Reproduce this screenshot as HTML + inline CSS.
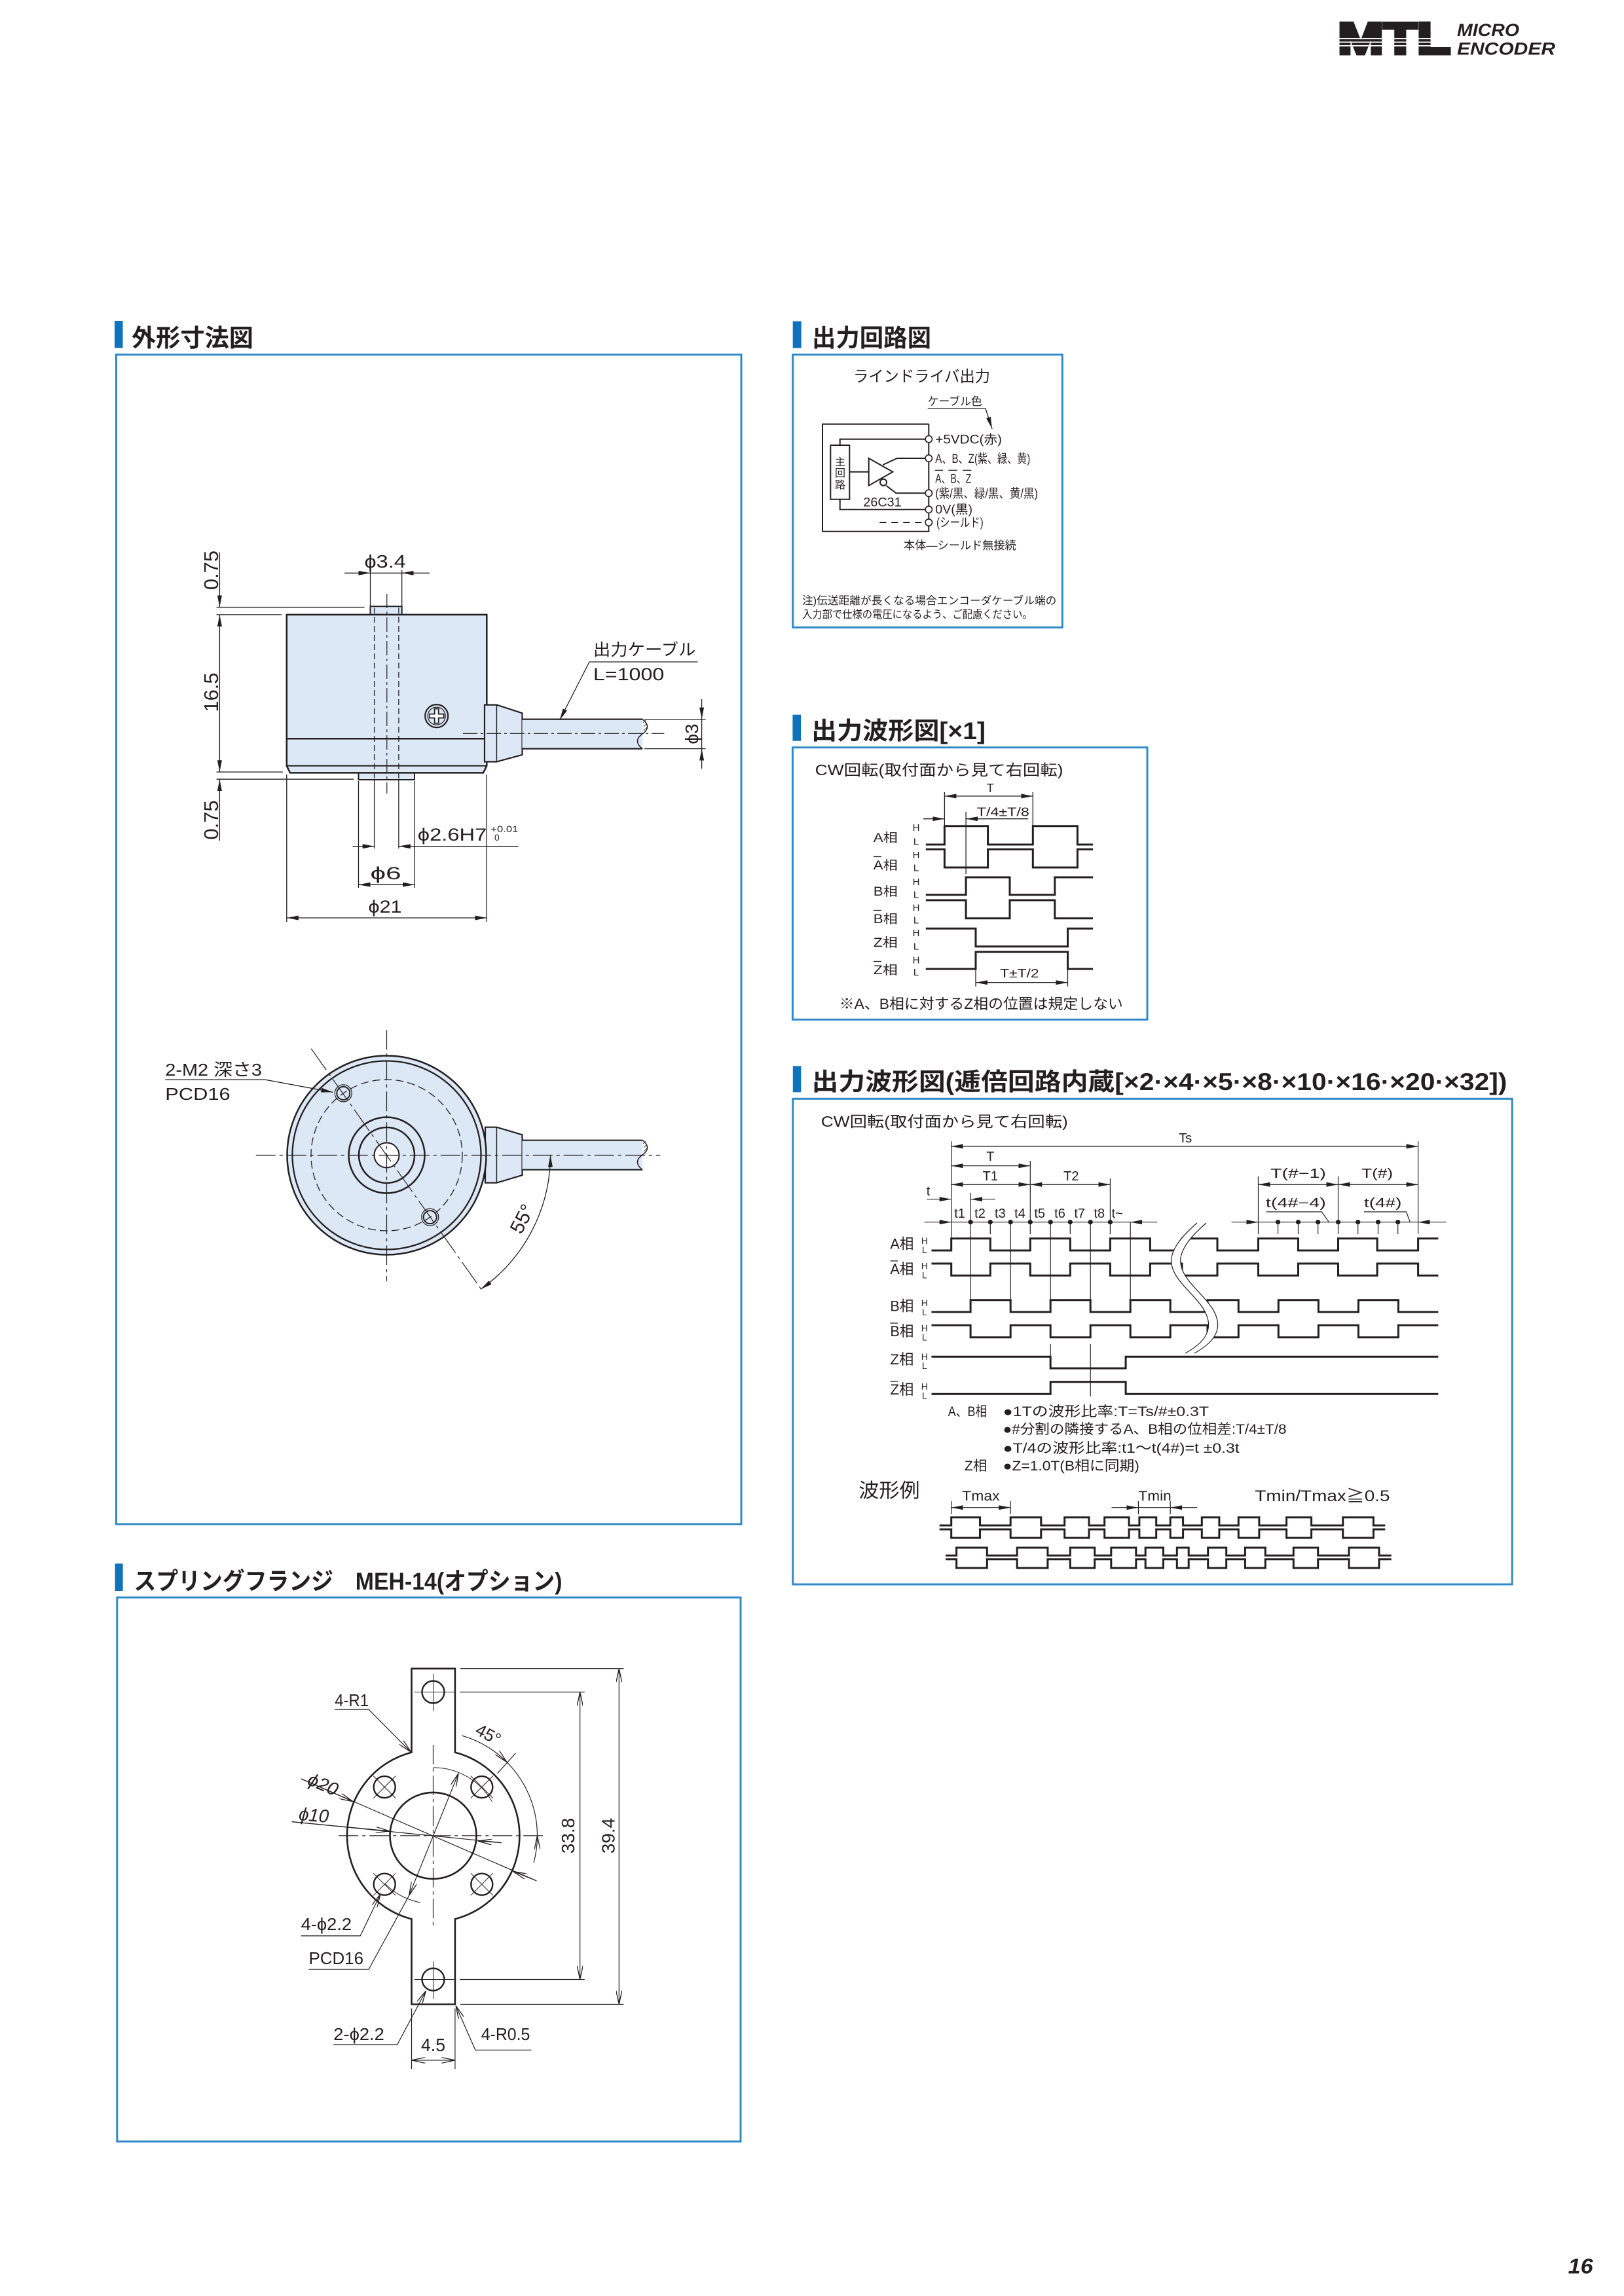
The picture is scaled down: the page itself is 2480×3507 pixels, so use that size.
<!DOCTYPE html>
<html><head><meta charset="utf-8"><style>
html,body{margin:0;padding:0;background:#fff}
svg{display:block}
text{font-family:"Liberation Sans","Noto Sans CJK JP",sans-serif;fill:#231f20}
.h{font-weight:700}
</style></head><body>
<svg xmlns="http://www.w3.org/2000/svg" width="2480" height="3507" viewBox="0 0 2480 3507">
<defs>
<marker id="ar" viewBox="0 0 18 7" refX="18" refY="3.5" markerWidth="18" markerHeight="7" markerUnits="userSpaceOnUse" orient="auto-start-reverse"><path d="M0,0L18,3.5L0,7z" fill="#231f20"/></marker>
<marker id="ao" viewBox="0 0 22 9" refX="21" refY="4.5" markerWidth="22" markerHeight="9" markerUnits="userSpaceOnUse" orient="auto-start-reverse"><path d="M0,0L21,4.5L0,9" fill="none" stroke="#231f20" stroke-width="1.3"/></marker>
</defs>

<!-- Logo -->
<text x="2043" y="82" font-size="68" font-weight="bold" textLength="172" lengthAdjust="spacingAndGlyphs" stroke="#231f20" stroke-width="5" stroke-linejoin="miter">MTL</text>
<rect x="2038" y="58" width="182" height="1.8" fill="#fff"/>
<rect x="2038" y="63.5" width="182" height="1.8" fill="#fff"/>
<rect x="2038" y="69" width="182" height="1.8" fill="#fff"/>
<text x="2225" y="55" font-size="27" font-weight="bold" font-style="italic" textLength="95" lengthAdjust="spacingAndGlyphs">MICRO</text>
<text x="2225" y="83.3" font-size="27" font-weight="bold" font-style="italic" textLength="150" lengthAdjust="spacingAndGlyphs">ENCODER</text>

<!-- Headings -->
<rect x="175" y="490" width="12.5" height="41.5" fill="#0f72ba"/>
<text class="h" x="201" y="529" font-size="37" textLength="186" lengthAdjust="spacingAndGlyphs">外形寸法図</text>
<rect x="1210.7" y="490.7" width="13" height="41" fill="#0f72ba"/>
<text class="h" x="1240" y="529" font-size="37" textLength="182" lengthAdjust="spacingAndGlyphs">出力回路図</text>
<rect x="1210.4" y="1091.7" width="12.8" height="40" fill="#0f72ba"/>
<text class="h" x="1239" y="1129" font-size="37" textLength="266" lengthAdjust="spacingAndGlyphs">出力波形図[×1]</text>
<rect x="1210.8" y="1628.3" width="12.5" height="40" fill="#0f72ba"/>
<text class="h" x="1239.5" y="1665" font-size="37" textLength="1062" lengthAdjust="spacingAndGlyphs">出力波形図(逓倍回路内蔵[×2·×4·×5·×8·×10·×16·×20·×32])</text>
<rect x="175.6" y="2388.3" width="12" height="41.7" fill="#0f72ba"/>
<text class="h" x="204.5" y="2428" font-size="37" textLength="654" lengthAdjust="spacingAndGlyphs">スプリングフランジ　MEH-14(オプション)</text>

<!-- Boxes -->
<g fill="none" stroke="#3189c9" stroke-width="3">
<rect x="177.5" y="541.7" width="954.5" height="1786.3"/>
<rect x="1210.7" y="541.7" width="411.6" height="416.6"/>
<rect x="1210.4" y="1141.7" width="541.6" height="415.6"/>
<rect x="1210.8" y="1678.3" width="1098.4" height="741.7"/>
<rect x="178.8" y="2440" width="952.2" height="831"/>
</g>

<!-- ===== SIDE VIEW ===== -->
<g stroke="#231f20" fill="none">
<rect x="565.5" y="926.2" width="48.2" height="12.7" fill="#dce8f5" stroke-width="2"/>
<rect x="547.5" y="1180.4" width="85.5" height="10.6" fill="#dce8f5" stroke-width="2"/>
<polygon points="437.8,938.9 743.3,938.9 743.3,1169.8 738,1180.4 443,1180.4 437.8,1169.8" fill="#dce8f5" stroke-width="2.5"/>
<line x1="437.8" y1="1169.8" x2="743.3" y2="1169.8" stroke-width="2"/>
<line x1="437.8" y1="1128.3" x2="743.3" y2="1128.3" stroke-width="2.5"/>
<g stroke-width="1.3" stroke-dasharray="9 5">
<line x1="571.6" y1="928" x2="571.6" y2="1191"/>
<line x1="608.9" y1="928" x2="608.9" y2="1191"/>
</g>
<line x1="590.8" y1="907" x2="590.8" y2="1212" stroke-width="1.2" stroke-dasharray="22 5 4 5"/>
<circle cx="666.7" cy="1093.6" r="17.5" stroke-width="2.2"/>
<circle cx="666.7" cy="1093.6" r="13.5" stroke-width="1.2"/>
<polygon points="663.7,1082.6 669.7,1082.6 669.7,1090.6 677.7,1090.6 677.7,1096.6 669.7,1096.6 669.7,1104.6 663.7,1104.6 663.7,1096.6 655.7,1096.6 655.7,1090.6 663.7,1090.6" fill="#fff" stroke-width="1.8"/>
<polygon points="740,1076.6 758.4,1076.6 797.5,1089.3 797.5,1152.9 758.4,1163.5 740,1163.5" fill="#dce8f5" stroke-width="2.2"/>
<line x1="758.4" y1="1076.6" x2="758.4" y2="1163.5" stroke-width="1.5"/>
<rect x="797.5" y="1098.6" width="183.7" height="45" fill="#dce8f5" stroke="none"/>
<line x1="797.5" y1="1098.6" x2="981.2" y2="1098.6" stroke-width="2.2"/>
<line x1="797.5" y1="1143.6" x2="981.2" y2="1143.6" stroke-width="2.2"/>
<path d="M981,1098.6 C991,1106 991,1114 981,1121 C971,1128 971,1136 981,1143.6" stroke-width="1.5"/>
<path d="M982,1104 L986,1100 M983,1110 L988,1105 M983,1116 L988,1111" stroke-width="0.8"/>
<line x1="707" y1="1120.3" x2="1014.3" y2="1120.3" stroke-width="1.2" stroke-dasharray="22 5 4 5"/>
</g>
<!-- side dims -->
<g stroke="#231f20" stroke-width="1.3" fill="none">
<line x1="330.6" y1="927.5" x2="556.5" y2="927.5"/>
<line x1="330.6" y1="938.9" x2="430" y2="938.9"/>
<line x1="330.6" y1="1179.2" x2="432" y2="1179.2"/>
<line x1="330.6" y1="1190.2" x2="540.2" y2="1190.2"/>
<line x1="335.4" y1="843.6" x2="335.4" y2="927.5" marker-end="url(#ar)"/>
<line x1="335.4" y1="938.9" x2="335.4" y2="1179.2" marker-start="url(#ar)" marker-end="url(#ar)"/>
<line x1="335.4" y1="1284" x2="335.4" y2="1190.2" marker-end="url(#ar)"/>
<line x1="565.5" y1="871" x2="565.5" y2="926"/>
<line x1="613.7" y1="871" x2="613.7" y2="926"/>
<line x1="526" y1="875.3" x2="565.5" y2="875.3" marker-end="url(#ar)"/>
<line x1="655.9" y1="875.3" x2="613.7" y2="875.3" marker-end="url(#ar)"/>
<line x1="565.5" y1="875.3" x2="613.7" y2="875.3"/>
<polyline points="1065.5,1011 900,1011 854.7,1099.9" marker-end="url(#ar)"/>
<line x1="984.2" y1="1098.6" x2="1077.6" y2="1098.6"/>
<line x1="984.2" y1="1143.6" x2="1077.6" y2="1143.6"/>
<line x1="1071.6" y1="1068" x2="1071.6" y2="1098.6" marker-end="url(#ar)"/>
<line x1="1071.6" y1="1174" x2="1071.6" y2="1143.6" marker-end="url(#ar)"/>
<line x1="1071.6" y1="1098.6" x2="1071.6" y2="1143.6"/>
<line x1="547.5" y1="1193" x2="547.5" y2="1356"/>
<line x1="571.6" y1="1191" x2="571.6" y2="1296"/>
<line x1="608.9" y1="1191" x2="608.9" y2="1296"/>
<line x1="633" y1="1193" x2="633" y2="1356"/>
<line x1="437.8" y1="1183" x2="437.8" y2="1408"/>
<line x1="743.3" y1="1183" x2="743.3" y2="1408"/>
<line x1="538.4" y1="1292.7" x2="571.6" y2="1292.7" marker-end="url(#ar)"/>
<line x1="791.4" y1="1292.7" x2="608.9" y2="1292.7" marker-end="url(#ar)"/>
<line x1="547.5" y1="1351.2" x2="633" y2="1351.2" marker-start="url(#ar)" marker-end="url(#ar)"/>
<line x1="437.8" y1="1402" x2="743.3" y2="1402" marker-start="url(#ar)" marker-end="url(#ar)"/>
</g>
<g font-size="31">
<text transform="translate(333,871) rotate(-90)" text-anchor="middle">0.75</text>
<text transform="translate(333,1057.5) rotate(-90)" text-anchor="middle">16.5</text>
<text transform="translate(333,1252.5) rotate(-90)" text-anchor="middle">0.75</text>
</g>
<text x="556.5" y="866.9" font-size="28" textLength="63.3" lengthAdjust="spacingAndGlyphs">ϕ3.4</text>
<text x="905.9" y="1001" font-size="25" textLength="156.6" lengthAdjust="spacingAndGlyphs">出力ケーブル</text>
<text x="905.9" y="1039" font-size="27" textLength="108.4" lengthAdjust="spacingAndGlyphs">L=1000</text>
<text transform="translate(1066,1121) rotate(-90)" text-anchor="middle" font-size="28">ϕ3</text>
<text x="637.8" y="1284" font-size="27" textLength="105.5" lengthAdjust="spacingAndGlyphs">ϕ2.6H7</text>
<text x="749.3" y="1271" font-size="14" textLength="42" lengthAdjust="spacingAndGlyphs">+0.01</text>
<text x="755" y="1284" font-size="14">0</text>
<text x="565.5" y="1343" font-size="27" textLength="47" lengthAdjust="spacingAndGlyphs">ϕ6</text>
<text x="562.5" y="1394" font-size="27" textLength="51" lengthAdjust="spacingAndGlyphs">ϕ21</text>

<!-- ===== FRONT VIEW ===== -->
<g stroke="#231f20" fill="none">
<polygon points="741,1721.7 758.4,1721.7 797.5,1733.3 797.5,1795 758.4,1806.7 741,1806.7" fill="#dce8f5" stroke-width="2.2"/>
<line x1="758.4" y1="1721.7" x2="758.4" y2="1806.7" stroke-width="1.5"/>
<rect x="797.5" y="1741.7" width="183.7" height="45" fill="#dce8f5" stroke="none"/>
<line x1="797.5" y1="1741.7" x2="981.2" y2="1741.7" stroke-width="2.2"/>
<line x1="797.5" y1="1786.7" x2="981.2" y2="1786.7" stroke-width="2.2"/>
<path d="M981,1741.7 C991,1749 991,1757 981,1764 C971,1771 971,1779 981,1786.7" stroke-width="1.5"/>
<path d="M982,1747 L986,1743 M983,1753 L988,1748 M983,1759 L988,1754" stroke-width="0.8"/>
<circle cx="590.5" cy="1764.5" r="152" fill="#dce8f5" stroke-width="2.5"/>
<circle cx="590.5" cy="1764.5" r="144" stroke-width="2.3"/>
<circle cx="590.5" cy="1764.5" r="115.5" stroke-width="1.3" stroke-dasharray="12 6"/>
<circle cx="590.5" cy="1764.5" r="58" stroke-width="2.5"/>
<circle cx="590.5" cy="1764.5" r="42.5" stroke-width="2.5"/>
<circle cx="590.5" cy="1764.5" r="19" fill="#fff" stroke-width="2"/>
<circle cx="524.3" cy="1669.9" r="13" stroke-width="1.2"/>
<circle cx="524.3" cy="1669.9" r="10" stroke-width="2"/>
<circle cx="656.7" cy="1859.1" r="13" stroke-width="1.2"/>
<circle cx="656.7" cy="1859.1" r="10" stroke-width="2"/>
<line x1="475.2" y1="1601.7" x2="734.2" y2="1968.3" stroke-width="1.2" stroke-dasharray="40 6 5 6"/>
<line x1="390.8" y1="1764.5" x2="1008.3" y2="1764.5" stroke-width="1.2" stroke-dasharray="30 6 5 6"/>
<line x1="590.5" y1="1573.3" x2="590.5" y2="1956.7" stroke-width="1.2" stroke-dasharray="30 6 5 6"/>
<path d="M840.5,1764.5 A250,250 0 0 1 733.9,1969.3" stroke-width="1.3" marker-start="url(#ar)" marker-end="url(#ar)"/>
<polyline points="252.3,1649.3 405.9,1649.3 508.3,1668.3" stroke-width="1.3" marker-end="url(#ar)"/>
</g>
<text x="252.3" y="1643" font-size="26" textLength="147.6" lengthAdjust="spacingAndGlyphs">2-M2 深さ3</text>
<text x="252.3" y="1680" font-size="26" textLength="99.4" lengthAdjust="spacingAndGlyphs">PCD16</text>
<text transform="translate(797.5,1861.7) rotate(-62.5)" text-anchor="middle" dy="10" font-size="30">55°</text>

<!-- ===== SPRING FLANGE ===== -->
<g stroke="#231f20" fill="none">
<path d="M628.5,2548.7 H694.9 V2676.6 A131.5,131.5 0 0 1 694.9,2931.2 V3061.5 H628.5 V2931.2 A131.5,131.5 0 0 1 628.5,2676.6 Z" stroke-width="2.6"/>
<circle cx="661.5" cy="2803.9" r="66" stroke-width="2.6"/>
<circle cx="587.2" cy="2729.6" r="16.5" stroke-width="2.4"/>
<circle cx="735.8" cy="2729.6" r="16.5" stroke-width="2.4"/>
<circle cx="587.2" cy="2878.2" r="16.5" stroke-width="2.4"/>
<circle cx="735.8" cy="2878.2" r="16.5" stroke-width="2.4"/>
<circle cx="661.5" cy="2584.5" r="17" stroke-width="2.4"/>
<circle cx="661.5" cy="3023.5" r="17" stroke-width="2.4"/>
<g stroke-width="1">
<path d="M570.2,2712.6 L604.2,2746.6 M570.2,2746.6 L604.2,2712.6"/>
<path d="M718.8,2712.6 L752.8,2746.6 M718.8,2746.6 L752.8,2712.6"/>
<path d="M570.2,2861.2 L604.2,2895.2 M570.2,2895.2 L604.2,2861.2"/>
<path d="M718.8,2861.2 L752.8,2895.2 M718.8,2895.2 L752.8,2861.2"/>
<path d="M632.5,2584.5 H693.3 M661.5,2557 V2614"/>
<path d="M632.5,3023.5 H693.3 M661.5,2996 V3053"/>
<path d="M661.5,2699.9 A104,104 0 0 1 751.6,2751.9"/>
<path d="M641.9,2906 A104,104 0 0 1 588,2877.4"/>
</g>
<line x1="661.5" y1="2665" x2="661.5" y2="2945" stroke-width="1.2" stroke-dasharray="30 6 5 6"/>
<line x1="517.2" y1="2803.9" x2="829.3" y2="2803.9" stroke-width="1.2" stroke-dasharray="30 6 5 6"/>
<g stroke-width="1.2">
<line x1="702" y1="2584.5" x2="892.8" y2="2584.5"/>
<line x1="702" y1="3023.5" x2="892.8" y2="3023.5"/>
<line x1="885.7" y1="2584.5" x2="885.7" y2="3023.5" marker-start="url(#ao)" marker-end="url(#ao)"/>
<line x1="702.9" y1="2548.7" x2="952.5" y2="2548.7"/>
<line x1="702.9" y1="3061.5" x2="952.5" y2="3061.5"/>
<line x1="945.3" y1="2548.7" x2="945.3" y2="3061.5" marker-start="url(#ao)" marker-end="url(#ao)"/>
<line x1="628.5" y1="3067.7" x2="628.5" y2="3160"/>
<line x1="694.9" y1="3067.7" x2="694.9" y2="3160"/>
<line x1="628.5" y1="3146.9" x2="694.9" y2="3146.9" marker-start="url(#ao)" marker-end="url(#ao)"/>
<path d="M705.3,2651.1 A159,159 0 0 1 773.9,2691.5" marker-end="url(#ao)"/>
<path d="M773.9,2691.5 A159,159 0 0 1 820.5,2803.9"/>
<path d="M815.1,2845.1 A159,159 0 0 0 820.5,2803.9" marker-end="url(#ao)"/>
<line x1="759.7" y1="2708.7" x2="787.4" y2="2678"/>
<line x1="459.6" y1="2716.9" x2="819.3" y2="2872.8"/>
<line x1="459.6" y1="2716.9" x2="539.1" y2="2751.8" marker-end="url(#ao)"/>
<line x1="819.3" y1="2872.8" x2="783.5" y2="2858.5" marker-end="url(#ao)"/>
<line x1="445.7" y1="2782.6" x2="765.7" y2="2814.6"/>
<line x1="445.7" y1="2782.6" x2="594.8" y2="2796.9" marker-end="url(#ao)"/>
<line x1="765.7" y1="2814.6" x2="729.9" y2="2812.1" marker-end="url(#ao)"/>
<path d="M624.6,2895.4 L700.1,2708.7" marker-start="url(#ao)" marker-end="url(#ao)"/>
<polyline points="624.6,2895.4 563,3008.2 471.5,3008.2"/>
<polyline points="511.3,2611.1 563,2611.1 627.3,2675.9" marker-end="url(#ao)"/>
<polyline points="459.6,2956.9 550.2,2956.9 581,2893" marker-end="url(#ao)"/>
<polyline points="509.3,3123 606.7,3123 650.4,3041" marker-end="url(#ao)"/>
<polyline points="811.4,3131.3 725.9,3131.3 696.1,3063.6" marker-end="url(#ao)"/>
</g>
</g>
<g font-size="26">
<text x="511.3" y="2606" textLength="51.7" lengthAdjust="spacingAndGlyphs">4-R1</text>
<text transform="translate(745.8,2649.2) rotate(28)" text-anchor="middle" dy="9">45°</text>
<text transform="translate(467.6,2725) rotate(23)" font-size="28" textLength="47.7" lengthAdjust="spacingAndGlyphs" font-style="italic">ϕ20</text>
<text transform="translate(455.6,2780) rotate(5)" font-size="28" textLength="45.8" lengthAdjust="spacingAndGlyphs" font-style="italic">ϕ10</text>
<text x="459.6" y="2948" textLength="77.5" lengthAdjust="spacingAndGlyphs">4-ϕ2.2</text>
<text x="471.5" y="3000" textLength="83.5" lengthAdjust="spacingAndGlyphs">PCD16</text>
<text x="509.3" y="3116" textLength="77.5" lengthAdjust="spacingAndGlyphs">2-ϕ2.2</text>
<text x="643" y="3133" font-size="28" textLength="37" lengthAdjust="spacingAndGlyphs">4.5</text>
<text x="734.7" y="3116" textLength="74.7" lengthAdjust="spacingAndGlyphs">4-R0.5</text>
<text transform="translate(877,2804) rotate(-90)" text-anchor="middle" font-size="28">33.8</text>
<text transform="translate(938.6,2804) rotate(-90)" text-anchor="middle" font-size="28">39.4</text>
</g>

<!-- ===== CIRCUIT ===== -->
<text x="1303" y="583" font-size="24" textLength="209" lengthAdjust="spacingAndGlyphs">ラインドライバ出力</text>
<text x="1416.7" y="619" font-size="17" textLength="83" lengthAdjust="spacingAndGlyphs">ケーブル色</text>
<g stroke="#231f20" fill="none" stroke-width="2">
<polyline points="1416.7,624 1505,624 1515,655" stroke-width="1.3" marker-end="url(#ar)"/>
<polyline points="1418.3,647.7 1256,647.7 1256,811.7 1418.3,811.7 1418.3,647.7"/>
<polyline points="1413,670.7 1282.7,670.7 1282.7,680"/>
<rect x="1268.3" y="680" width="29" height="82.7"/>
<polyline points="1282.7,762.7 1282.7,778.3 1413,778.3"/>
<polygon points="1326.7,700 1326.7,741.7 1363.3,720.7"/>
<line x1="1297.3" y1="720.7" x2="1326.7" y2="720.7"/>
<polyline points="1348.3,710 1370,700 1413,700"/>
<circle cx="1349" cy="736.7" r="5" fill="#fff"/>
<polyline points="1353.3,741.7 1368.3,753.3 1413,753.3"/>
<line x1="1343.3" y1="798" x2="1410" y2="798" stroke-dasharray="10 8"/>
<g fill="#fff" stroke-width="1.6">
<circle cx="1418.3" cy="670.7" r="5.2"/>
<circle cx="1418.3" cy="700" r="5.2"/>
<circle cx="1418.3" cy="753.3" r="5.2"/>
<circle cx="1418.3" cy="778.3" r="5.2"/>
<circle cx="1418.3" cy="798" r="5.2"/>
</g>
<g stroke-width="1.3">
<line x1="1428" y1="718.3" x2="1440" y2="718.3"/>
<line x1="1448.3" y1="718.3" x2="1461.7" y2="718.3"/>
<line x1="1470" y1="718.3" x2="1483.3" y2="718.3"/>
</g>
</g>
<g font-size="16">
<text x="1283" y="711" text-anchor="middle">主</text>
<text x="1283" y="728" text-anchor="middle">回</text>
<text x="1283" y="746" text-anchor="middle">路</text>
</g>
<text x="1318.3" y="773.3" font-size="19" textLength="58.4" lengthAdjust="spacingAndGlyphs">26C31</text>
<g font-size="19">
<text x="1428.3" y="677.7" textLength="101.7" lengthAdjust="spacingAndGlyphs">+5VDC(赤)</text>
<text x="1428.3" y="707" textLength="145" lengthAdjust="spacingAndGlyphs">A、B、Z(紫、緑、黄)</text>
<text x="1428.3" y="737.5" textLength="55" lengthAdjust="spacingAndGlyphs">A、B、Z</text>
<text x="1428.3" y="760" textLength="156.7" lengthAdjust="spacingAndGlyphs">(紫/黒、緑/黒、黄/黒)</text>
<text x="1428.3" y="784.5" textLength="56.7" lengthAdjust="spacingAndGlyphs">0V(黒)</text>
<text x="1430" y="804.5" textLength="71.7" lengthAdjust="spacingAndGlyphs">(シールド)</text>
</g>
<text x="1380" y="839" font-size="17.5" textLength="171.7" lengthAdjust="spacingAndGlyphs">本体—シールド無接続</text>
<text x="1225" y="923" font-size="16.5" textLength="388.3" lengthAdjust="spacingAndGlyphs">注)伝送距離が長くなる場合エンコーダケーブル端の</text>
<text x="1225" y="944" font-size="16.5" textLength="351.7" lengthAdjust="spacingAndGlyphs">入力部で仕様の電圧になるよう、ご配慮ください。</text>

<!-- ===== WAVEFORM x1 ===== -->
<text x="1244.6" y="1184" font-size="23" textLength="379" lengthAdjust="spacingAndGlyphs">CW回転(取付面から見て右回転)</text>
<g stroke="#231f20" fill="none" stroke-width="1.3">
<line x1="1442.4" y1="1210" x2="1442.4" y2="1261.7"/>
<line x1="1577.3" y1="1210" x2="1577.3" y2="1261.7"/>
<line x1="1442.4" y1="1216" x2="1577.3" y2="1216" marker-start="url(#ar)" marker-end="url(#ar)"/>
<line x1="1410" y1="1250.7" x2="1442.4" y2="1250.7" marker-end="url(#ar)"/>
<line x1="1569.9" y1="1250.7" x2="1475.1" y2="1250.7" marker-end="url(#ar)"/>
<line x1="1475.1" y1="1240" x2="1475.1" y2="1335"/>
<line x1="1490" y1="1454" x2="1490" y2="1506.7"/>
<line x1="1630.5" y1="1454" x2="1630.5" y2="1506.7"/>
<line x1="1490" y1="1500.7" x2="1630.5" y2="1500.7" marker-start="url(#ar)" marker-end="url(#ar)"/>
</g>
<g stroke="#231f20" fill="none" stroke-width="3">
<path d="M1413.8,1290 H1442.4 V1261.7 H1508.6 V1290 H1577.3 V1261.7 H1645.4 V1290 H1669.1"/>
<path d="M1413.8,1297.3 H1442.4 V1325 H1508.6 V1297.3 H1577.3 V1325 H1645.4 V1297.3 H1669.1"/>
<path d="M1413.8,1366.7 H1475.1 V1340 H1542 V1366.7 H1610.8 V1340 H1669.1"/>
<path d="M1413.8,1375 H1475.1 V1402.7 H1542 V1375 H1610.8 V1402.7 H1669.1"/>
<path d="M1413.8,1418.3 H1490 V1445.7 H1630.5 V1418.3 H1669.1"/>
<path d="M1413.8,1480 H1490 V1454 H1630.5 V1480 H1669.1"/>
</g>
<text x="1512.3" y="1210" font-size="18" text-anchor="middle">T</text>
<text x="1491.8" y="1246.7" font-size="18" textLength="80" lengthAdjust="spacingAndGlyphs">T/4±T/8</text>
<text x="1527.1" y="1493" font-size="18" textLength="59.5" lengthAdjust="spacingAndGlyphs">T±T/2</text>
<g font-size="19">
<text x="1333.8" y="1286" textLength="37" lengthAdjust="spacingAndGlyphs">A相</text>
<text x="1333.8" y="1328" textLength="37" lengthAdjust="spacingAndGlyphs">A相</text>
<text x="1333.8" y="1368" textLength="37" lengthAdjust="spacingAndGlyphs">B相</text>
<text x="1333.8" y="1410" textLength="37" lengthAdjust="spacingAndGlyphs">B相</text>
<text x="1333.8" y="1446" textLength="37" lengthAdjust="spacingAndGlyphs">Z相</text>
<text x="1333.8" y="1488" textLength="37" lengthAdjust="spacingAndGlyphs">Z相</text>
</g>
<g stroke="#231f20" stroke-width="1.3">
<line x1="1334" y1="1308.5" x2="1346" y2="1308.5"/>
<line x1="1334" y1="1390.5" x2="1346" y2="1390.5"/>
<line x1="1334" y1="1468.5" x2="1346" y2="1468.5"/>
</g>
<g font-size="15" text-anchor="middle">
<text x="1399" y="1268.8">H</text><text x="1399" y="1290.5">L</text>
<text x="1399" y="1311.2">H</text><text x="1399" y="1330.5">L</text>
<text x="1399" y="1352.2">H</text><text x="1399" y="1371.5">L</text>
<text x="1399" y="1391.5">H</text><text x="1399" y="1410.5">L</text>
<text x="1399" y="1429.8">H</text><text x="1399" y="1450.5">L</text>
<text x="1399" y="1471.5">H</text><text x="1399" y="1489.8">L</text>
</g>
<text x="1281.8" y="1541" font-size="22" textLength="433" lengthAdjust="spacingAndGlyphs">※A、B相に対するZ相の位置は規定しない</text>

<!-- ===== WAVEFORM MULTI ===== -->
<text x="1253.8" y="1721" font-size="23" textLength="377" lengthAdjust="spacingAndGlyphs">CW回転(取付面から見て右回転)</text>
<g font-size="20">
<text x="1810.2" y="1745" text-anchor="middle">Ts</text>
<text x="1512.3" y="1773" text-anchor="middle">T</text>
<text x="1512.3" y="1803" text-anchor="middle">T1</text>
<text x="1635.8" y="1803" text-anchor="middle">T2</text>
<text x="1982.5" y="1799" text-anchor="middle" textLength="84.7" lengthAdjust="spacingAndGlyphs">T(#−1)</text>
<text x="2103.1" y="1799" text-anchor="middle" textLength="48" lengthAdjust="spacingAndGlyphs">T(#)</text>
<text x="1417.5" y="1826" text-anchor="middle">t</text>
<text x="1978.9" y="1844" text-anchor="middle" textLength="92" lengthAdjust="spacingAndGlyphs">t(4#−4)</text>
<text x="2111.7" y="1844" text-anchor="middle" textLength="57.4" lengthAdjust="spacingAndGlyphs">t(4#)</text>
<text x="1465.6" y="1860" text-anchor="middle">t1</text>
<text x="1496.5" y="1860" text-anchor="middle">t2</text>
<text x="1527.4" y="1860" text-anchor="middle">t3</text>
<text x="1557.5" y="1860" text-anchor="middle">t4</text>
<text x="1587.7" y="1860" text-anchor="middle">t5</text>
<text x="1618.5" y="1860" text-anchor="middle">t6</text>
<text x="1648.7" y="1860" text-anchor="middle">t7</text>
<text x="1678.8" y="1860" text-anchor="middle">t8</text>
<text x="1706.1" y="1860" text-anchor="middle">t~</text>
</g>
<g stroke="#231f20" fill="none" stroke-width="1.2">
<line x1="1452.7" y1="1743.3" x2="1452.7" y2="1891.7"/>
<line x1="2165.6" y1="1743.3" x2="2165.6" y2="1885"/>
<line x1="1452.7" y1="1751" x2="2165.6" y2="1751" marker-start="url(#ar)" marker-end="url(#ar)"/>
<line x1="1573.3" y1="1773" x2="1573.3" y2="1885"/>
<line x1="1452.7" y1="1780.7" x2="1573.3" y2="1780.7" marker-start="url(#ar)" marker-end="url(#ar)"/>
<line x1="1452.7" y1="1809.3" x2="1573.3" y2="1809.3" marker-start="url(#ar)" marker-end="url(#ar)"/>
<line x1="1695.4" y1="1800" x2="1695.4" y2="1885"/>
<line x1="1573.3" y1="1809.3" x2="1695.4" y2="1809.3" marker-start="url(#ar)" marker-end="url(#ar)"/>
<line x1="1921.5" y1="1796.7" x2="1921.5" y2="1885"/>
<line x1="2043.5" y1="1796.7" x2="2043.5" y2="1885"/>
<line x1="1921.5" y1="1809.3" x2="2043.5" y2="1809.3" marker-start="url(#ar)" marker-end="url(#ar)"/>
<line x1="2043.5" y1="1809.3" x2="2165.6" y2="1809.3" marker-start="url(#ar)" marker-end="url(#ar)"/>
<line x1="1415.4" y1="1831.7" x2="1452.7" y2="1831.7" marker-end="url(#ar)"/>
<line x1="1519.5" y1="1831.7" x2="1482.1" y2="1831.7" marker-end="url(#ar)"/>
<line x1="1411.8" y1="1866.7" x2="1452.7" y2="1866.7" marker-end="url(#ar)"/>
<line x1="1452.7" y1="1866.7" x2="1726.2" y2="1866.7"/>
<line x1="1767.1" y1="1866.7" x2="1726.2" y2="1866.7" marker-end="url(#ar)"/>
<line x1="1880.6" y1="1866.7" x2="1921.5" y2="1866.7" marker-end="url(#ar)"/>
<line x1="1921.5" y1="1866.7" x2="2165.6" y2="1866.7"/>
<line x1="2208.6" y1="1866.7" x2="2165.6" y2="1866.7" marker-end="url(#ar)"/>
<polyline points="1933.7,1851 2018.4,1851 2029.4,1866.7"/>
<polyline points="2083,1851 2147.6,1851 2153.3,1866.7"/>
<line x1="1482.1" y1="1821.7" x2="1482.1" y2="1985.7"/>
<line x1="1543.2" y1="1866.7" x2="1543.2" y2="1985.7"/>
<line x1="1604.2" y1="1866.7" x2="1604.2" y2="1985.7"/>
<line x1="1665.2" y1="1866.7" x2="1665.2" y2="1985.7"/>
<line x1="1726.2" y1="1866.7" x2="1726.2" y2="1985.7"/>
<line x1="1604.2" y1="2053" x2="1604.2" y2="2072.3"/>
<line x1="1665.2" y1="2053" x2="1665.2" y2="2133"/>
<path d="M1512.3,1866.7V1885 M1634.3,1866.7V1885 M1951.6,1866.7V1885 M1982.5,1866.7V1885 M2012.7,1866.7V1885 M2073.7,1866.7V1885 M2104.5,1866.7V1885 M2134.7,1866.7V1885"/>
</g>
<g fill="#231f20">
<circle cx="1482.1" cy="1866.7" r="3.6"/><circle cx="1512.3" cy="1866.7" r="3.6"/><circle cx="1543.2" cy="1866.7" r="3.6"/><circle cx="1573.3" cy="1866.7" r="3.6"/><circle cx="1604.2" cy="1866.7" r="3.6"/><circle cx="1634.3" cy="1866.7" r="3.6"/><circle cx="1665.2" cy="1866.7" r="3.6"/><circle cx="1695.4" cy="1866.7" r="3.6"/>
<circle cx="1951.6" cy="1866.7" r="3.6"/><circle cx="1982.5" cy="1866.7" r="3.6"/><circle cx="2012.7" cy="1866.7" r="3.6"/><circle cx="2043.5" cy="1866.7" r="3.6"/><circle cx="2073.7" cy="1866.7" r="3.6"/><circle cx="2104.5" cy="1866.7" r="3.6"/><circle cx="2134.7" cy="1866.7" r="3.6"/>
</g>
<g stroke="#231f20" fill="none" stroke-width="3">
<path d="M1422.5,1910 H1452.7 V1891.7 H1512.3 V1910 H1573.3 V1891.7 H1634.3 V1910 H1695.4 V1891.7 H1756.4 V1910 H1805 V1891.7 H1859 V1910 H1921.5 V1891.7 H1982.5 V1910 H2043.5 V1891.7 H2103.1 V1910 H2165.6 V1891.7 H2196.4"/>
<path d="M1422.5,1930 H1452.7 V1948.3 H1512.3 V1930 H1573.3 V1948.3 H1634.3 V1930 H1695.4 V1948.3 H1756.4 V1930 H1805 V1948.3 H1859 V1930 H1921.5 V1948.3 H1982.5 V1930 H2043.5 V1948.3 H2103.1 V1930 H2165.6 V1948.3 H2196.4"/>
<path d="M1422.5,2004 H1482.1 V1985.7 H1543.2 V2004 H1604.2 V1985.7 H1665.2 V2004 H1726.2 V1985.7 H1787.2 V2004 H1844 V1985.7 H1891.3 V2004 H1952.3 V1985.7 H2013.4 V2004 H2074.4 V1985.7 H2135.4 V2004 H2196.4"/>
<path d="M1422.5,2024.3 H1482.1 V2042.7 H1543.2 V2024.3 H1604.2 V2042.7 H1665.2 V2024.3 H1726.2 V2042.7 H1787.2 V2024.3 H1844 V2042.7 H1891.3 V2024.3 H1952.3 V2042.7 H2013.4 V2024.3 H2074.4 V2042.7 H2135.4 V2024.3 H2196.4"/>
<path d="M1422.5,2072.3 H1604.2 V2090 H1719.1 V2072.3 H2196.4"/>
<path d="M1422.5,2129.3 H1604.2 V2110.7 H1719.1 V2129.3 H2196.4"/>
</g>
<path d="M1828,1868 C1805,1888 1786,1910 1789,1930 C1792,1955 1822,1975 1837,1998 C1852,2022 1850,2045 1810,2067 L1824,2067 C1864,2045 1866,2022 1851,1998 C1836,1975 1806,1955 1803,1930 C1800,1910 1819,1888 1842,1868 Z" fill="#fff"/>
<g stroke="#231f20" fill="none" stroke-width="1.2">
<path d="M1828,1868 C1805,1888 1786,1910 1789,1930 C1792,1955 1822,1975 1837,1998 C1852,2022 1850,2045 1810,2067"/>
<path d="M1842,1868 C1819,1888 1800,1910 1803,1930 C1806,1955 1836,1975 1851,1998 C1866,2022 1864,2045 1824,2067"/>
</g>
<g font-size="22">
<text x="1359.4" y="1907.5" textLength="36" lengthAdjust="spacingAndGlyphs">A相</text>
<text x="1359.4" y="1946" textLength="36" lengthAdjust="spacingAndGlyphs">A相</text>
<text x="1359.4" y="2002.5" textLength="36" lengthAdjust="spacingAndGlyphs">B相</text>
<text x="1359.4" y="2041" textLength="36" lengthAdjust="spacingAndGlyphs">B相</text>
<text x="1359.4" y="2084" textLength="36" lengthAdjust="spacingAndGlyphs">Z相</text>
<text x="1359.4" y="2130" textLength="36" lengthAdjust="spacingAndGlyphs">Z相</text>
</g>
<g stroke="#231f20" stroke-width="1.3">
<line x1="1359.5" y1="1926" x2="1371" y2="1926"/>
<line x1="1359.5" y1="2021" x2="1371" y2="2021"/>
<line x1="1359.5" y1="2110" x2="1371" y2="2110"/>
</g>
<g font-size="14" text-anchor="middle">
<text x="1411.8" y="1900">H</text><text x="1411.8" y="1914">L</text>
<text x="1411.8" y="1938.5">H</text><text x="1411.8" y="1952.5">L</text>
<text x="1411.8" y="1995">H</text><text x="1411.8" y="2009">L</text>
<text x="1411.8" y="2033.5">H</text><text x="1411.8" y="2047.5">L</text>
<text x="1411.8" y="2077">H</text><text x="1411.8" y="2091">L</text>
<text x="1411.8" y="2122.5">H</text><text x="1411.8" y="2136.5">L</text>
</g>
<g font-size="21">
<text x="1447.7" y="2163" textLength="59.6" lengthAdjust="spacingAndGlyphs">A、B相</text>
<text x="1531.7" y="2163" textLength="314.4" lengthAdjust="spacingAndGlyphs">●1Tの波形比率:T=Ts/#±0.3T</text>
<text x="1531.7" y="2190" textLength="432.9" lengthAdjust="spacingAndGlyphs">●#分割の隣接するA、B相の位相差:T/4±T/8</text>
<text x="1531.7" y="2219" textLength="361" lengthAdjust="spacingAndGlyphs">●T/4の波形比率:t1〜t(4#)=t ±0.3t</text>
<text x="1472.8" y="2246" textLength="34.5" lengthAdjust="spacingAndGlyphs">Z相</text>
<text x="1531.7" y="2246" textLength="208.2" lengthAdjust="spacingAndGlyphs">●Z=1.0T(B相に同期)</text>
</g>
<text x="1311.3" y="2287" font-size="30" textLength="93.3" lengthAdjust="spacingAndGlyphs">波形例</text>
<g font-size="21">
<text x="1469.2" y="2292" textLength="57.4" lengthAdjust="spacingAndGlyphs">Tmax</text>
<text x="1738.4" y="2292" textLength="50.3" lengthAdjust="spacingAndGlyphs">Tmin</text>
<text x="1916.4" y="2293" font-size="24" textLength="206.1" lengthAdjust="spacingAndGlyphs">Tmin/Tmax≧0.5</text>
</g>
<g stroke="#231f20" fill="none" stroke-width="1.2">
<line x1="1452.7" y1="2293" x2="1452.7" y2="2313"/>
<line x1="1543.2" y1="2293" x2="1543.2" y2="2313"/>
<line x1="1452.7" y1="2302.7" x2="1543.2" y2="2302.7" marker-start="url(#ar)" marker-end="url(#ar)"/>
<line x1="1738.4" y1="2293" x2="1738.4" y2="2313"/>
<line x1="1787.2" y1="2293" x2="1787.2" y2="2313"/>
<line x1="1697.5" y1="2302.7" x2="1738.4" y2="2302.7" marker-end="url(#ar)"/>
<line x1="1738.4" y1="2302.7" x2="1787.2" y2="2302.7"/>
<line x1="1828.2" y1="2302.7" x2="1787.2" y2="2302.7" marker-end="url(#ar)"/>
</g>
<g stroke="#231f20" fill="none" stroke-width="3">
<path d="M1434.7,2330 H1452.7 V2317.7 H1496.5 V2330 H1543.2 V2317.7 H1589.8 V2330 H1625.7 V2317.7 H1663 V2330 H1686.7 V2317.7 H1724.1 V2330 H1739.9 V2317.7 H1765.7 V2330 H1787.2 V2317.7 H1806.6 V2330 H1835.3 V2317.7 H1861.9 V2330 H1891.3 V2317.7 H1922.9 V2330 H1964.6 V2317.7 H2002.6 V2330 H2050.7 V2317.7 H2097.4 V2330 H2115.3"/>
<path d="M1434.7,2336 H1452.7 V2349 H1496.5 V2336 H1543.2 V2349 H1589.8 V2336 H1625.7 V2349 H1663 V2336 H1686.7 V2349 H1724.1 V2336 H1739.9 V2349 H1765.7 V2336 H1787.2 V2349 H1806.6 V2336 H1835.3 V2349 H1861.9 V2336 H1891.3 V2349 H1922.9 V2336 H1964.6 V2349 H2002.6 V2336 H2050.7 V2349 H2097.4 V2336 H2115.3"/>
<path d="M1444.1,2376 H1460.6 V2364 H1507.3 V2376 H1553.2 V2364 H1599.9 V2376 H1634.3 V2364 H1671.7 V2376 H1696.8 V2364 H1734.8 V2376 H1749.2 V2364 H1776.5 V2376 H1797.3 V2364 H1815.2 V2376 H1844.7 V2364 H1872.7 V2376 H1901.4 V2364 H1932.3 V2376 H1975.3 V2364 H2012.7 V2376 H2060 V2364 H2106 V2376 H2124.7"/>
<path d="M1444.1,2381.7 H1460.6 V2395 H1507.3 V2381.7 H1553.2 V2395 H1599.9 V2381.7 H1634.3 V2395 H1671.7 V2381.7 H1696.8 V2395 H1734.8 V2381.7 H1749.2 V2395 H1776.5 V2381.7 H1797.3 V2395 H1815.2 V2381.7 H1844.7 V2395 H1872.7 V2381.7 H1901.4 V2395 H1932.3 V2381.7 H1975.3 V2395 H2012.7 V2381.7 H2060 V2395 H2106 V2381.7 H2124.7"/>
</g>

<!-- page number -->
<text x="2394.7" y="3472.7" font-size="32" font-weight="bold" font-style="italic" textLength="38" lengthAdjust="spacingAndGlyphs">16</text>
</svg>
</body></html>
